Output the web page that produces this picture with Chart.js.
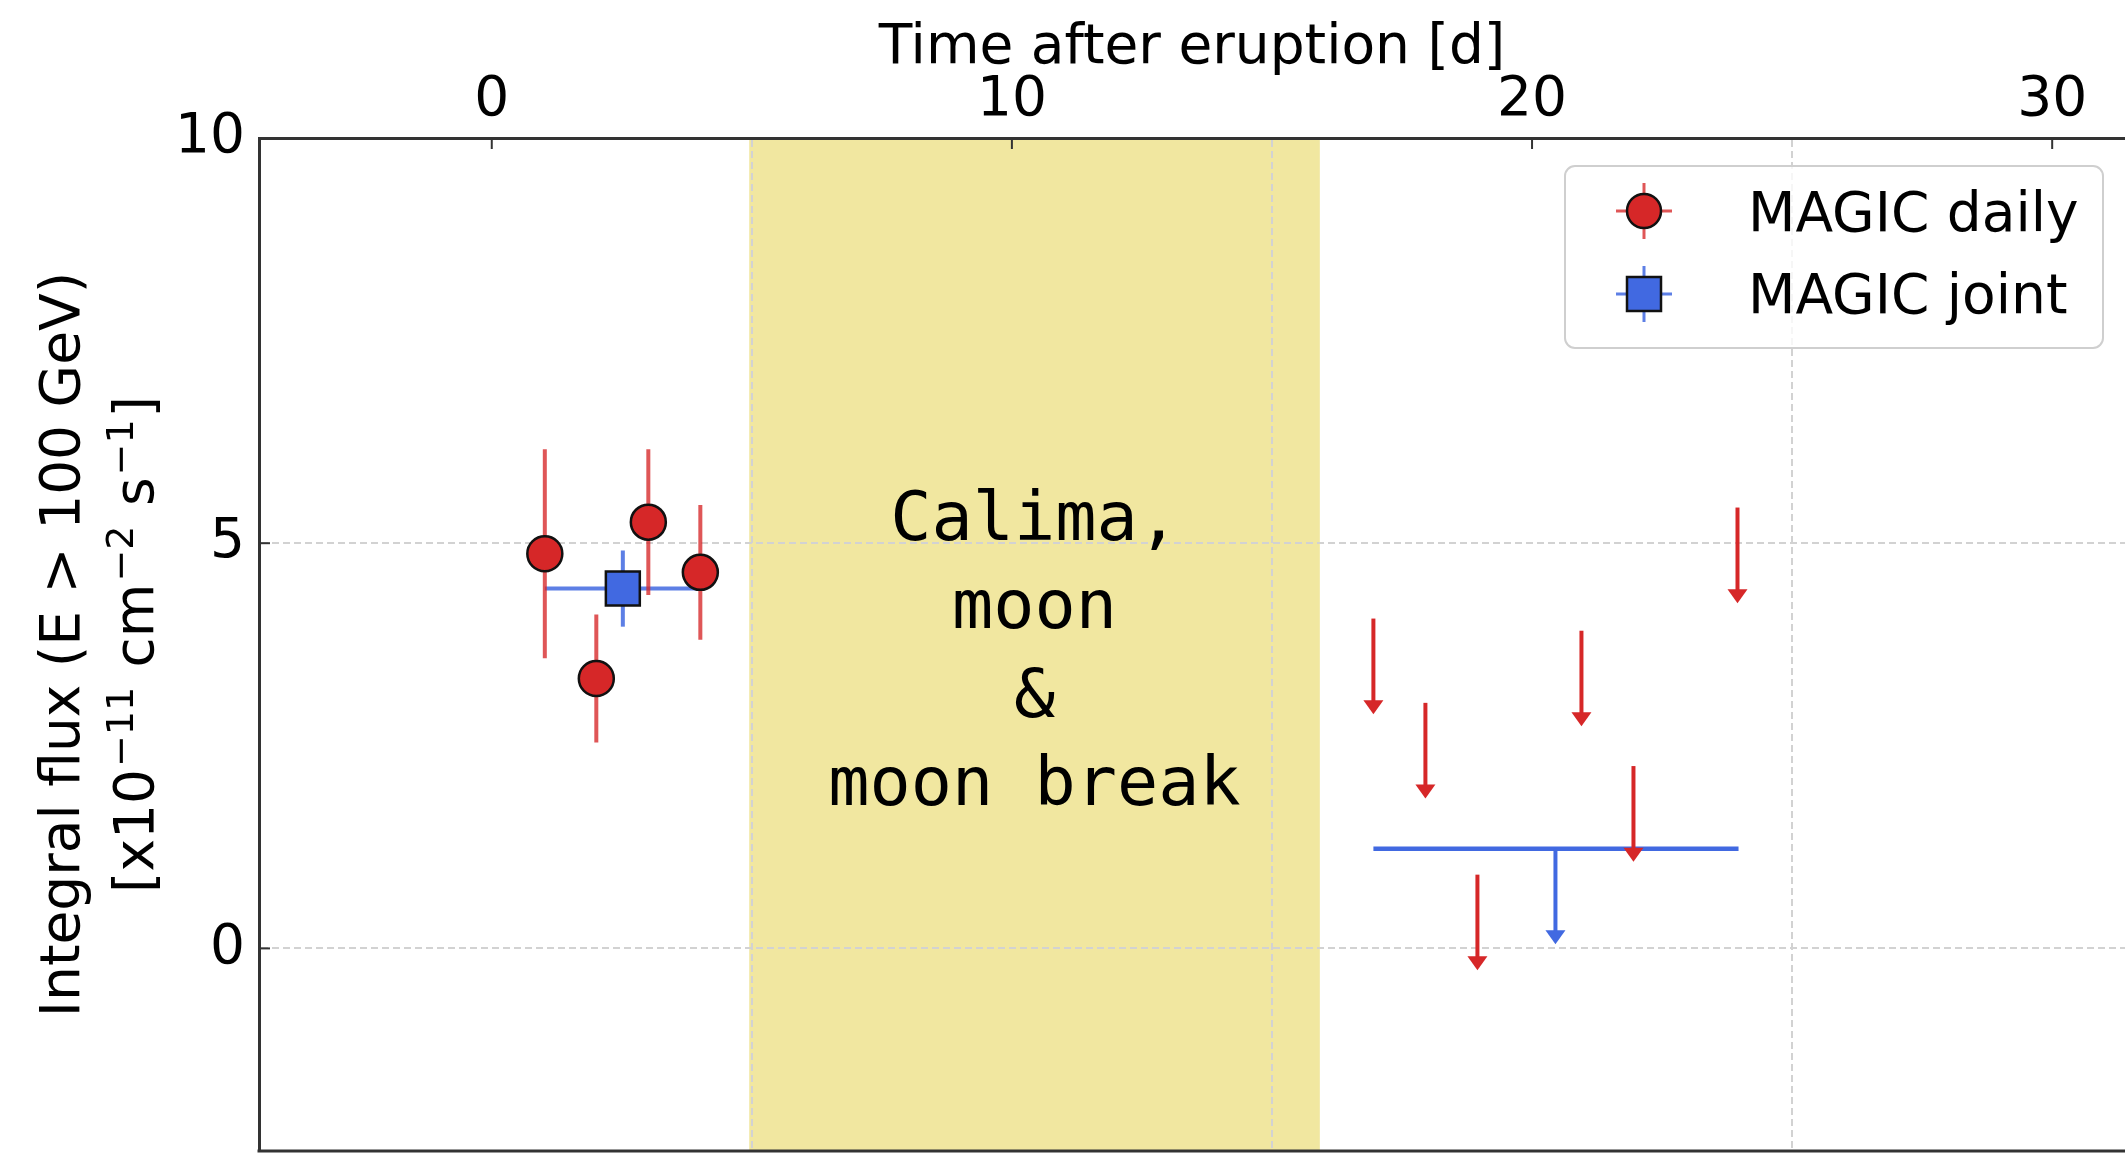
<!DOCTYPE html>
<html><head><meta charset="utf-8">
<script src="https://cdn.jsdelivr.net/npm/chart.js@4.4.1/dist/chart.umd.min.js"></script>
<style>html,body{margin:0;padding:0;background:#fff;overflow:hidden}#wrap{width:2125px;height:1154px}</style>
</head><body><div id="wrap"><canvas id="c" width="2125" height="1154"></canvas></div>
<script>
// ---- data ----
const dailyDays = [1.02, 2.01, 3.01, 4.01];
const dailyFlux = [4.87, 3.33, 5.26, 4.64];
const dailyErr  = [1.29, 0.79, 0.90, 0.83];
const dailyUlDays = [16.95, 17.95, 18.95, 20.95, 21.95, 23.95];
const dailyUlFlux = [4.07, 3.03, 0.91, 3.92, 2.25, 5.44];
const jointDays = [2.52];
const jointFlux = [4.44];
const jointErr  = [0.47];
const jointDayLow  = [1.02];
const jointDayHigh = [4.01];
const jointUlDays = [20.45];
const jointUlFlux = [1.23];
const jointUlDayLow  = [16.95];
const jointUlDayHigh = [23.97];
const ulArrowLength = 1.18;
const bandRange = [4.95, 15.92];
const bandText = ['Calima,', 'moon', '&', 'moon break'];
const bandTextFlux = 3.71;
const xTickValues = [0, 10, 20, 30];
const xGridValues = [5, 15, 25];
const yTickValues = [0, 5, 10];
const yGridValues = [0, 5];
const xLimits = [-4.475, 31.40];
const yLimits = [-2.5, 10];
const xTitle = 'Time after eruption [d]';
const yTitle = 'Integral flux (E > 100 GeV)';
// second y-title line as [text, isSuperscript] runs
const yTitleUnits = [['[x10', false], ['\u221211', true], [' cm', false], ['\u22122', true], [' s', false], ['\u22121', true], [']', false]];
const legendLabels = ['MAGIC daily', 'MAGIC joint'];

// ---- styles ----
const RED = '#d62728', RED_ERR = 'rgba(214,39,40,0.78)';
const BLUE = '#4169e1', BLUE_ERR = 'rgba(65,105,225,0.85)';
const SPINE = '#333333';
const GRID = '#d2d2d2';
const FONT = '"DejaVu Sans", sans-serif';

function vline(ctx, x, y1, y2, color, w) {
  ctx.save(); ctx.strokeStyle = color; ctx.lineWidth = w; ctx.lineCap = 'butt';
  ctx.beginPath(); ctx.moveTo(x, y1); ctx.lineTo(x, y2); ctx.stroke(); ctx.restore();
}
function hline(ctx, x1, x2, y, color, w) {
  ctx.save(); ctx.strokeStyle = color; ctx.lineWidth = w;
  ctx.beginPath(); ctx.moveTo(x1, y); ctx.lineTo(x2, y); ctx.stroke(); ctx.restore();
}
function arrowDown(ctx, x, yTop, yTip, color) {
  const headH = 14, headW = 10;
  vline(ctx, x, yTop, yTip - headH + 1, color, 4);
  ctx.save(); ctx.fillStyle = color;
  ctx.beginPath(); ctx.moveTo(x - headW, yTip - headH); ctx.lineTo(x + headW, yTip - headH);
  ctx.lineTo(x, yTip); ctx.closePath(); ctx.fill(); ctx.restore();
}

const bandPlugin = {
  id: 'band',
  beforeDraw(chart) {
    const {ctx, chartArea: a, scales: {x}} = chart;
    const x1 = x.getPixelForValue(bandRange[0]), x2 = x.getPixelForValue(bandRange[1]);
    ctx.save(); ctx.fillStyle = 'rgb(241,231,160)';
    ctx.fillRect(x1, a.top, x2 - x1, a.bottom - a.top); ctx.restore();
  }
};

const errPlugin = {
  id: 'errs',
  beforeDatasetsDraw(chart) {
    const {ctx, scales: {x, y}} = chart;
    // annotation text
    ctx.save();
    ctx.font = '68.5px "DejaVu Sans Mono", monospace';
    ctx.fillStyle = '#000'; ctx.textAlign = 'center'; ctx.textBaseline = 'alphabetic';
    const cx = x.getPixelForValue((bandRange[0] + bandRange[1]) / 2);
    const cy = y.getPixelForValue(bandTextFlux);
    bandText.forEach((t, i) => ctx.fillText(t, cx, cy + 24.8 + (i - (bandText.length - 1) / 2) * 88.5));
    ctx.restore();
    // joint error bars
    jointDays.forEach((d, i) => {
      const px = x.getPixelForValue(d), py = y.getPixelForValue(jointFlux[i]);
      hline(ctx, x.getPixelForValue(jointDayLow[i]), x.getPixelForValue(jointDayHigh[i]), py, BLUE_ERR, 4);
      vline(ctx, px, y.getPixelForValue(jointFlux[i] + jointErr[i]), y.getPixelForValue(jointFlux[i] - jointErr[i]), BLUE_ERR, 4);
    });
    // joint upper limit
    jointUlDays.forEach((d, i) => {
      const px = x.getPixelForValue(d), py = y.getPixelForValue(jointUlFlux[i]);
      hline(ctx, x.getPixelForValue(jointUlDayLow[i]), x.getPixelForValue(jointUlDayHigh[i]), py, BLUE, 4.5);
      arrowDown(ctx, px, py, y.getPixelForValue(jointUlFlux[i] - ulArrowLength), BLUE);
    });
    // daily error bars
    dailyDays.forEach((d, i) => {
      const px = x.getPixelForValue(d);
      vline(ctx, px, y.getPixelForValue(dailyFlux[i] + dailyErr[i]), y.getPixelForValue(dailyFlux[i] - dailyErr[i]), RED_ERR, 4);
    });
    // daily upper limits
    dailyUlDays.forEach((d, i) => {
      const px = x.getPixelForValue(d);
      arrowDown(ctx, px, y.getPixelForValue(dailyUlFlux[i]), y.getPixelForValue(dailyUlFlux[i] - ulArrowLength), RED);
    });
  }
};

const framePlugin = {
  id: 'frame',
  afterDraw(chart) {
    const {ctx, chartArea: a, scales: {x, y}} = chart;
    // bottom spine
    hline(ctx, a.left - 1.5, a.right, a.bottom, SPINE, 3);
    // inward tick marks
    xTickValues.forEach(v => vline(ctx, x.getPixelForValue(v), a.top, a.top + 11, SPINE, 2));
    yTickValues.forEach(v => hline(ctx, a.left, a.left + 11, y.getPixelForValue(v), SPINE, 2));
    // second line of the y title, with superscripts
    ctx.save();
    ctx.translate(153, (a.top + a.bottom) / 2);
    ctx.rotate(-Math.PI / 2);
    ctx.fillStyle = '#000'; ctx.textBaseline = 'alphabetic'; ctx.textAlign = 'left';
    const fontFor = sup => (sup ? '38px ' : '55px ') + FONT;
    let total = 0;
    yTitleUnits.forEach(([t, sup]) => { ctx.font = fontFor(sup); total += ctx.measureText(t).width + (sup ? 4 : 0); });
    let pos = -total / 2;
    yTitleUnits.forEach(([t, sup]) => {
      ctx.font = fontFor(sup);
      if (sup) pos += 2;
      ctx.fillText(t, pos, sup ? -20 : 0);
      pos += ctx.measureText(t).width + (sup ? 2 : 0);
    });
    ctx.restore();
    // legend
    const bx = 1565, by = 166, bw = 538, bh = 182, r = 10;
    ctx.save();
    ctx.beginPath(); ctx.roundRect(bx, by, bw, bh, r);
    ctx.fillStyle = 'rgba(255,255,255,0.8)'; ctx.fill();
    ctx.strokeStyle = '#cfcfcf'; ctx.lineWidth = 2; ctx.stroke();
    ctx.restore();
    const mx = 1644, rows = [211, 294];
    hline(ctx, mx - 28, mx + 28, rows[0], RED_ERR, 3);
    vline(ctx, mx, rows[0] - 28, rows[0] + 28, RED_ERR, 3);
    ctx.save(); ctx.beginPath(); ctx.arc(mx, rows[0], 17, 0, Math.PI * 2);
    ctx.fillStyle = RED; ctx.fill(); ctx.lineWidth = 2.5; ctx.strokeStyle = '#111'; ctx.stroke(); ctx.restore();
    hline(ctx, mx - 28, mx + 28, rows[1], BLUE_ERR, 3);
    vline(ctx, mx, rows[1] - 28, rows[1] + 28, BLUE_ERR, 3);
    ctx.save(); ctx.beginPath(); ctx.rect(mx - 17, rows[1] - 17, 34, 34);
    ctx.fillStyle = BLUE; ctx.fill(); ctx.lineWidth = 2.5; ctx.strokeStyle = '#111'; ctx.stroke(); ctx.restore();
    ctx.save(); ctx.font = '55px ' + FONT; ctx.fillStyle = '#000'; ctx.textBaseline = 'alphabetic'; ctx.textAlign = 'left';
    ctx.fillText(legendLabels[0], 1748, 231);
    ctx.fillText(legendLabels[1], 1748, 313);
    ctx.restore();
  }
};

const gridColor = (vals) => (c) => (c.tick && vals.includes(c.tick.value)) ? GRID : 'rgba(0,0,0,0)';

new Chart(document.getElementById('c'), {
  type: 'scatter',
  data: {
    datasets: [
      { label: legendLabels[0], data: dailyDays.map((d, i) => ({x: d, y: dailyFlux[i]})),
        pointStyle: 'circle', pointRadius: 17.5, pointBackgroundColor: RED, pointBorderColor: '#111', pointBorderWidth: 2.5 },
      { label: legendLabels[1], data: jointDays.map((d, i) => ({x: d, y: jointFlux[i]})),
        pointStyle: 'rect', pointRadius: 24, pointBackgroundColor: BLUE, pointBorderColor: '#111', pointBorderWidth: 2.5 },
      { label: legendLabels[0] + ' UL', data: dailyUlDays.map((d, i) => ({x: d, y: dailyUlFlux[i]})), pointRadius: 0 },
      { label: legendLabels[1] + ' UL', data: jointUlDays.map((d, i) => ({x: d, y: jointUlFlux[i]})), pointRadius: 0 }
    ]
  },
  options: {
    responsive: false, animation: false, devicePixelRatio: 1,
    layout: { autoPadding: false, padding: { left: 0, right: 0, top: 0, bottom: 3 } },
    plugins: { legend: { display: false }, tooltip: { enabled: false } },
    scales: {
      x: {
        type: 'linear', position: 'top', min: xLimits[0], max: xLimits[1],
        afterBuildTicks: s => { s.ticks = [...xTickValues, ...xGridValues].sort((a, b) => a - b).map(v => ({value: v})); },
        afterFit: s => { s.height = 138; s.paddingLeft = 0; s.paddingRight = 0; },
        ticks: { autoSkip: false, maxRotation: 0, padding: 4, color: '#000', font: { family: FONT, size: 55 },
                 callback: v => xTickValues.includes(v) ? String(v) : '' },
        grid: { drawTicks: false, lineWidth: 2, color: gridColor(xGridValues), borderDash: [7, 4] },
        border: { display: true, color: SPINE, width: 3, dash: [7, 4] },
        title: { display: true, text: xTitle, color: '#000', font: { family: FONT, size: 55 }, padding: { top: 16, bottom: 0 } }
      },
      y: {
        type: 'linear', position: 'left', min: yLimits[0], max: yLimits[1],
        afterBuildTicks: s => { s.ticks = yTickValues.map(v => ({value: v})); },
        afterFit: s => { s.width = 259; s.paddingTop = 0; s.paddingBottom = 0; },
        ticks: { autoSkip: false, padding: 14, color: '#000', font: { family: FONT, size: 55 },
                 callback: v => String(v) },
        grid: { drawTicks: false, lineWidth: 2, color: gridColor(yGridValues), borderDash: [7, 4] },
        border: { display: true, color: SPINE, width: 3, dash: [7, 4] },
        title: { display: true, text: yTitle, color: '#000', font: { family: FONT, size: 55, lineHeight: 1.27 }, padding: { top: 30, bottom: 0 } }
      }
    }
  },
  plugins: [bandPlugin, errPlugin, framePlugin]
});
</script>
</body></html>
